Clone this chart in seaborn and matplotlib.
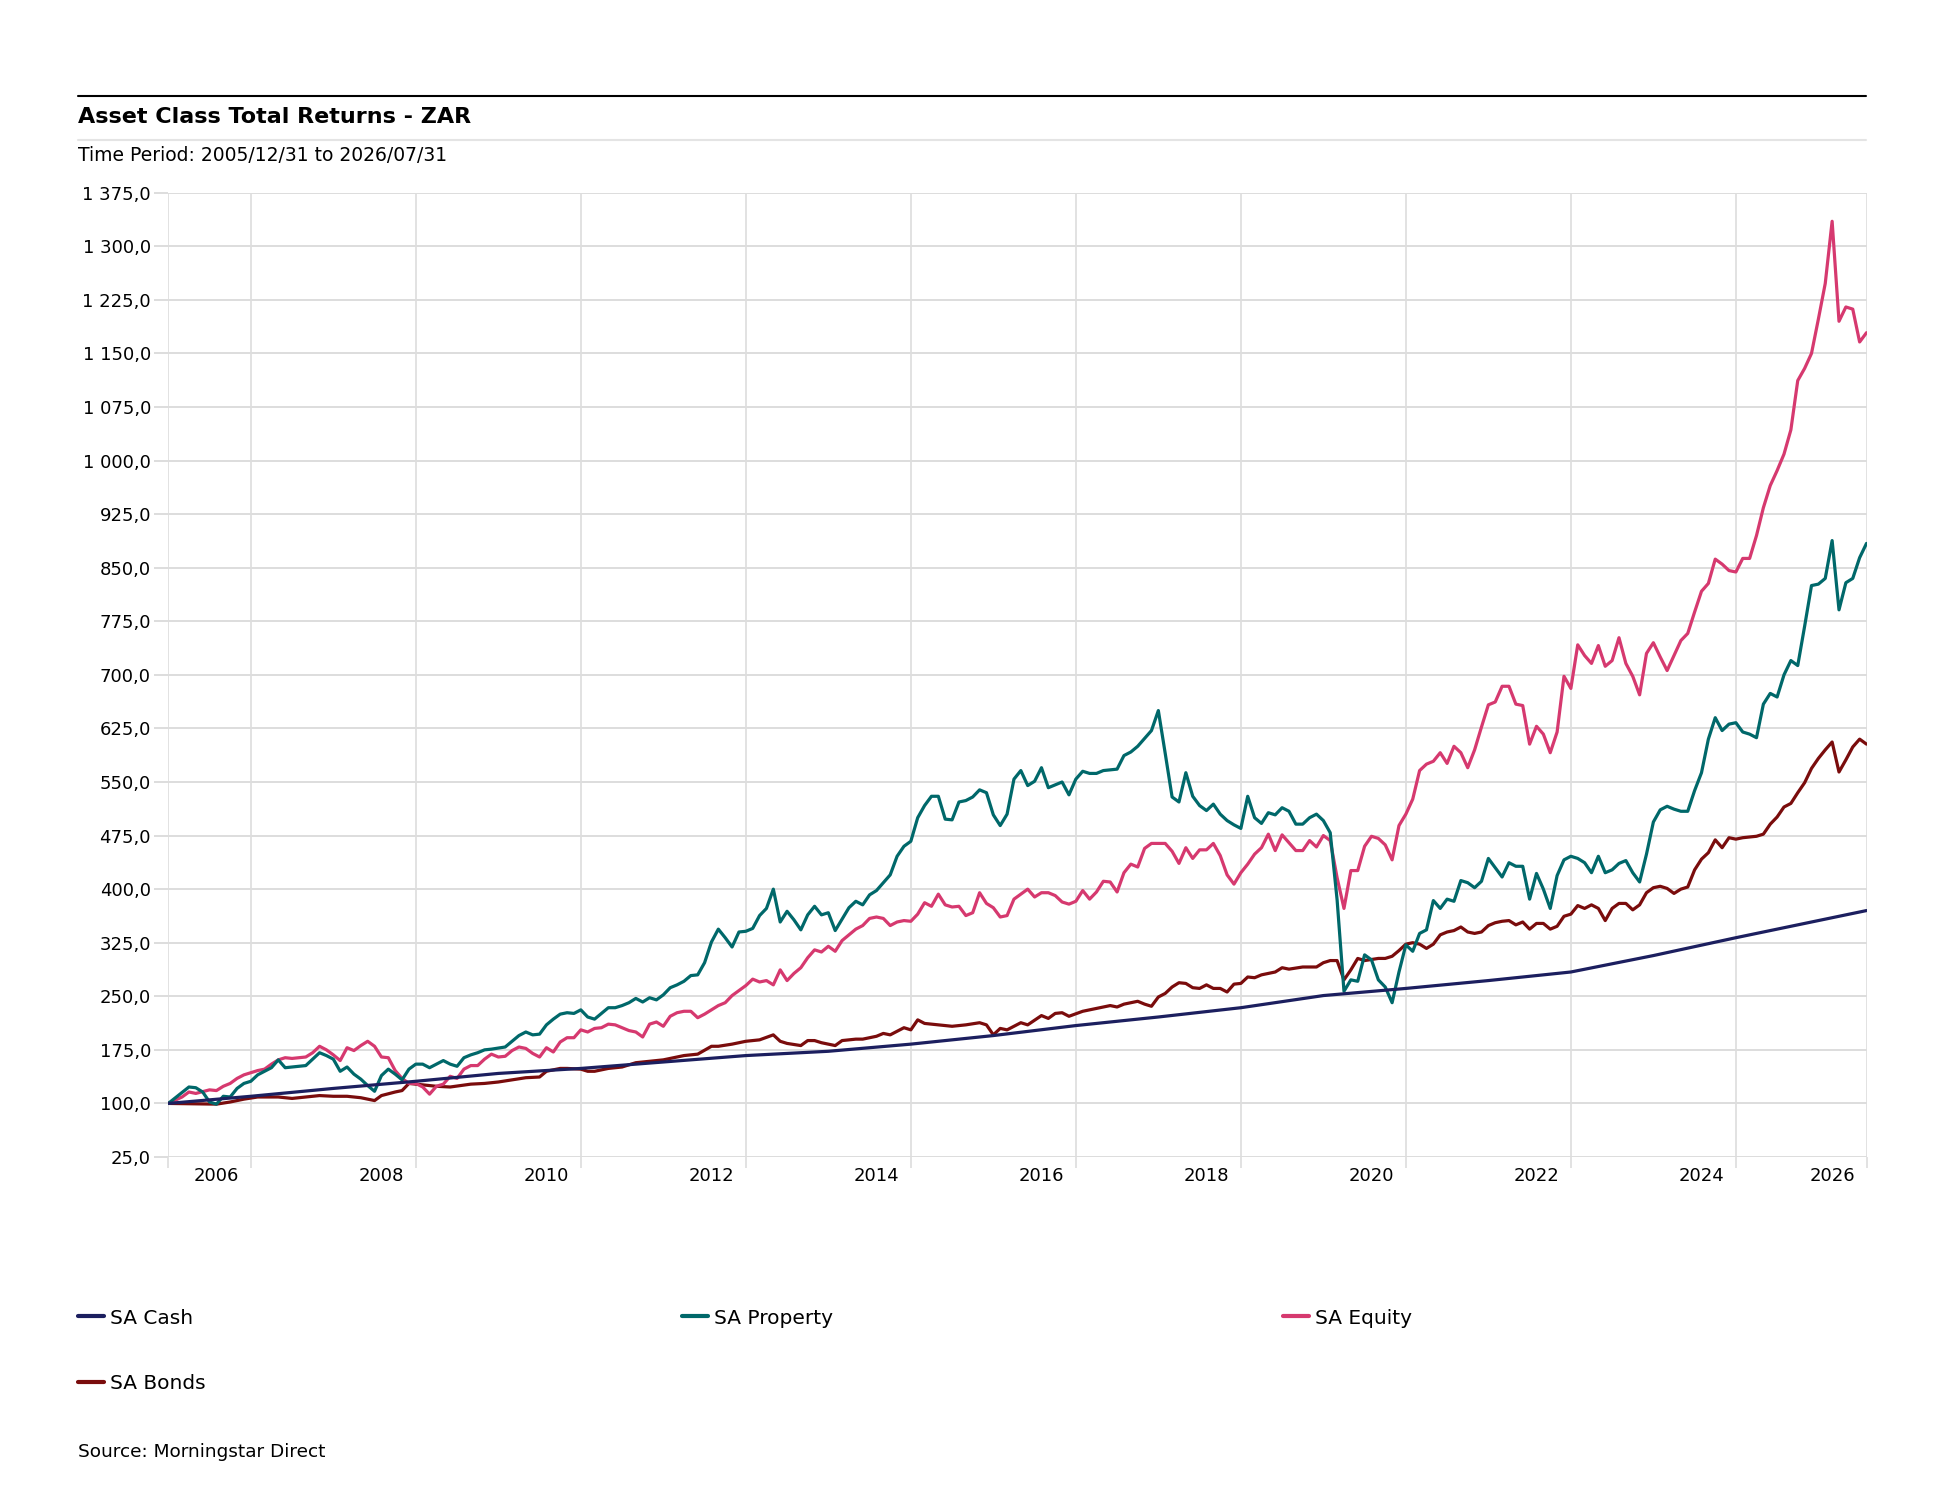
import numpy as np
import pandas as pd
import matplotlib
matplotlib.use("Agg")
import matplotlib.pyplot as plt
import seaborn as sns
from matplotlib.lines import Line2D
from matplotlib.ticker import FixedLocator, FuncFormatter, NullFormatter

# ---------------- data (month index: 0 = 2005/12/31 ... 247 = 2026/07/31) ----------------
cash_months = [0, 12, 24, 36, 48, 60, 72, 84, 96, 108, 120, 132, 144, 156, 168, 180, 192,
               204, 216, 228, 240, 247]
cash_values = [100, 110, 121, 131, 142, 149, 158, 167, 173, 183, 195, 209, 221, 234, 251, 261, 272,
               284, 307, 332, 356, 370]

property_months = [0, 3, 4, 5, 6, 7, 8, 9, 10, 11, 12, 13, 15, 16, 17, 19, 20, 22, 23, 24, 25, 26, 27, 28, 29, 30,
                   31, 32, 33, 34, 35, 36, 37, 38, 40, 41, 42, 43, 44, 45, 46, 47, 49, 50, 51, 52, 53, 54, 55, 56,
                   57, 58, 59, 60, 61, 62, 63, 64, 65, 66, 67, 68, 69, 70, 71, 72, 73, 74, 75, 76, 77, 78, 79, 80,
                   81, 82, 83, 84, 85, 86, 87, 88, 89, 90, 91, 92, 93, 94, 95, 96, 97, 98, 99, 100, 101, 102, 103,
                   104, 105, 106, 107, 108, 109, 110, 111, 112, 113, 114, 115, 116, 117, 118, 119, 120, 121, 122,
                   123, 124, 125, 126, 127, 128, 129, 130, 131, 132, 133, 134, 135, 136, 137, 138, 139, 140, 141,
                   142, 143, 144, 145, 146, 147, 148, 149, 150, 151, 152, 153, 154, 155, 156, 157, 158, 159, 160,
                   161, 162, 163, 164, 165, 166, 167, 168, 169, 170, 171, 172, 173, 174, 175, 176, 177, 178, 179,
                   180, 181, 182, 183, 184, 185, 186, 187, 188, 189, 190, 191, 192, 193, 194, 195, 196, 197, 198,
                   199, 200, 201, 202, 203, 204, 205, 206, 207, 208, 209, 210, 211, 212, 213, 214, 215, 216, 217,
                   218, 219, 220, 221, 222, 223, 224, 225, 226, 227, 228, 229, 230, 231, 232, 233, 234, 235, 236,
                   237, 238, 239, 240, 241, 242, 243, 244, 245, 246, 247]
property_values = [100, 123, 122, 116, 102, 99, 110, 109, 121, 128, 131, 140, 150, 161, 150, 152, 153, 171, 167, 162,
                   145, 151, 141, 134, 125, 117, 139, 148, 141, 133, 148, 155, 155, 150, 160, 155, 152, 164, 168,
                   171, 175, 176, 179, 187, 195, 200, 196, 197, 210, 218, 225, 227, 226, 231, 221, 218, 226, 234,
                   234, 237, 241, 247, 242, 248, 245, 252, 262, 266, 271, 279, 280, 297, 326, 344, 332, 319, 340,
                   341, 345, 363, 373, 400, 354, 369, 357, 343, 364, 376, 364, 367, 342, 358, 374, 383, 378, 392,
                   398, 409, 420, 446, 460, 467, 500, 517, 530, 530, 498, 497, 522, 524, 529, 539, 535, 504, 489,
                   505, 554, 566, 545, 551, 570, 542, 546, 550, 532, 554, 565, 562, 562, 566, 567, 568, 587, 592,
                   600, 611, 622, 650, 590, 529, 522, 563, 530, 517, 510, 519, 505, 496, 490, 485, 530, 500, 492,
                   507, 504, 514, 509, 491, 491, 500, 505, 496, 479, 385, 257, 273, 271, 308, 301, 273, 263, 241,
                   284, 322, 313, 338, 343, 384, 373, 386, 383, 412, 409, 402, 411, 443, 430, 417, 437, 432, 432,
                   386, 422, 400, 373, 419, 441, 446, 443, 437, 423, 446, 423, 427, 436, 440, 423, 410, 449, 494,
                   511, 516, 512, 509, 509, 538, 563, 610, 640, 622, 631, 633, 620, 617, 612, 659, 674, 669, 700,
                   720, 713, 768, 825, 827, 835, 888, 791, 829, 835, 864, 884]

equity_months = [0, 2, 3, 4, 6, 7, 8, 9, 10, 11, 13, 14, 15, 16, 17, 18, 20, 21, 22, 23, 24, 25, 26, 27, 28, 29, 30,
                 31, 32, 33, 34, 35, 36, 37, 38, 39, 40, 41, 42, 43, 44, 45, 46, 47, 48, 49, 50, 51, 52, 53, 54, 55,
                 56, 57, 58, 59, 60, 61, 62, 63, 64, 65, 66, 67, 68, 69, 70, 71, 72, 73, 74, 75, 76, 77, 78, 79, 80,
                 81, 82, 83, 84, 85, 86, 87, 88, 89, 90, 91, 92, 93, 94, 95, 96, 97, 98, 99, 100, 101, 102, 103,
                 104, 105, 106, 107, 108, 109, 110, 111, 112, 113, 114, 115, 116, 117, 118, 119, 120, 121, 122,
                 123, 124, 125, 126, 127, 128, 129, 130, 131, 132, 133, 134, 135, 136, 137, 138, 139, 140, 141,
                 142, 143, 144, 145, 146, 147, 148, 149, 150, 151, 152, 153, 154, 155, 156, 157, 158, 159, 160,
                 161, 162, 163, 164, 165, 166, 167, 168, 169, 170, 171, 172, 173, 174, 175, 176, 177, 178, 179,
                 180, 181, 182, 183, 184, 185, 186, 187, 188, 189, 190, 191, 192, 193, 194, 195, 196, 197, 198,
                 199, 200, 201, 202, 203, 204, 205, 206, 207, 208, 209, 210, 211, 212, 213, 214, 215, 216, 217,
                 218, 219, 220, 221, 222, 223, 224, 225, 226, 227, 228, 229, 230, 231, 232, 233, 234, 235, 236,
                 237, 238, 239, 240, 241, 242, 243, 244, 245, 246, 247]
equity_values = [100, 109, 116, 114, 119, 118, 124, 128, 135, 140, 146, 148, 155, 161, 164, 163, 165, 171, 180, 175,
                 168, 160, 178, 174, 181, 187, 180, 165, 164, 146, 135, 128, 128, 123, 113, 124, 127, 138, 135,
                 148, 153, 153, 162, 169, 165, 166, 174, 179, 177, 170, 165, 178, 172, 186, 192, 192, 203, 200,
                 205, 206, 211, 210, 206, 202, 200, 193, 211, 214, 208, 222, 227, 229, 229, 220, 225, 231, 237,
                 241, 251, 258, 265, 274, 270, 272, 266, 287, 272, 282, 290, 304, 315, 312, 320, 313, 328, 336,
                 344, 349, 359, 361, 359, 349, 354, 356, 355, 365, 381, 376, 393, 378, 375, 376, 363, 367, 395,
                 380, 374, 361, 363, 386, 393, 400, 389, 395, 395, 391, 382, 379, 383, 398, 386, 396, 411, 410,
                 396, 423, 435, 431, 457, 464, 464, 464, 453, 436, 458, 443, 455, 455, 464, 447, 420, 407, 423,
                 435, 449, 458, 477, 454, 476, 465, 454, 454, 468, 459, 475, 468, 416, 373, 426, 426, 460, 474,
                 471, 462, 441, 489, 505, 526, 566, 575, 579, 591, 576, 600, 591, 570, 595, 627, 658, 662, 684,
                 684, 659, 657, 603, 628, 617, 591, 620, 698, 681, 742, 727, 716, 741, 712, 720, 752, 716, 698,
                 672, 730, 745, 725, 706, 727, 748, 758, 788, 817, 828, 862, 855, 846, 844, 863, 863, 895, 934,
                 965, 986, 1009, 1043, 1112, 1129, 1150, 1198, 1248, 1335, 1195, 1215, 1212, 1166, 1179]

bonds_months = [0, 7, 9, 11, 13, 16, 18, 20, 22, 24, 26, 28, 30, 31, 33, 34, 35, 37, 39, 41, 44, 46, 48, 50, 52, 54,
                55, 57, 58, 60, 61, 62, 64, 66, 68, 70, 72, 73, 75, 77, 79, 80, 82, 84, 86, 88, 89, 90, 92, 93,
                94, 95, 97, 98, 100, 101, 103, 104, 105, 107, 108, 109, 110, 112, 114, 116, 118, 119, 120, 121,
                122, 124, 125, 127, 128, 129, 130, 131, 133, 135, 137, 138, 139, 141, 142, 143, 144, 145, 146,
                147, 148, 149, 150, 151, 152, 153, 154, 155, 156, 157, 158, 159, 161, 162, 163, 165, 167, 168,
                169, 170, 171, 172, 173, 174, 176, 177, 178, 179, 180, 181, 182, 183, 184, 185, 186, 187, 188,
                189, 190, 191, 192, 193, 194, 195, 196, 197, 198, 199, 200, 201, 202, 203, 204, 205, 206, 207,
                208, 209, 210, 211, 212, 213, 214, 215, 216, 217, 218, 219, 220, 221, 222, 223, 224, 225, 226,
                227, 228, 229, 230, 231, 232, 233, 234, 235, 236, 237, 238, 239, 240, 241, 242, 243, 244, 245,
                246, 247]
bonds_values = [100, 99, 102, 106, 109, 109, 107, 109, 111, 110, 110, 108, 104, 111, 116, 118, 128, 126, 124, 123,
                127, 128, 130, 133, 136, 137, 145, 149, 149, 148, 145, 145, 149, 151, 157, 159, 161, 163, 167,
                169, 180, 180, 183, 187, 189, 196, 187, 184, 181, 188, 188, 185, 181, 188, 190, 190, 194, 198,
                196, 206, 203, 217, 212, 210, 208, 210, 213, 210, 196, 205, 203, 213, 210, 223, 219, 226, 227,
                222, 229, 233, 237, 235, 239, 243, 239, 236, 249, 254, 263, 269, 268, 262, 261, 266, 261, 261,
                256, 267, 268, 277, 276, 280, 284, 290, 288, 291, 291, 297, 300, 300, 273, 287, 303, 300, 303,
                303, 306, 314, 323, 325, 323, 317, 323, 336, 340, 342, 347, 340, 338, 340, 349, 353, 355, 356,
                350, 354, 344, 352, 352, 344, 348, 362, 365, 377, 373, 378, 373, 356, 373, 380, 380, 371, 378,
                395, 402, 404, 401, 394, 400, 403, 427, 442, 451, 469, 458, 472, 470, 472, 473, 474, 477, 491,
                501, 515, 520, 535, 549, 569, 583, 595, 606, 564, 581, 599, 610, 603]

series_names = ["SA Cash", "SA Property", "SA Equity", "SA Bonds"]
series_colors = ["#1c1f5f", "#00686a", "#d6396f", "#7a0c0c"]

y_ticks = [25, 100, 175, 250, 325, 400, 475, 550, 625, 700, 775, 850, 925, 1000, 1075, 1150, 1225, 1300, 1375]
grid_months = [0, 12, 36, 60, 84, 108, 132, 156, 180, 204, 228, 247]
label_months = [7, 31, 55, 79, 103, 127, 151, 175, 199, 223, 242]
year_labels = ["2006", "2008", "2010", "2012", "2014", "2016", "2018", "2020", "2022", "2024", "2026"]

title_text = "Asset Class Total Returns - ZAR"
subtitle_text = "Time Period: 2005/12/31 to 2026/07/31"
source_text = "Source: Morningstar Direct"

# ---------------- figure ----------------
sns.set_theme(style="white")
plt.rcParams['font.family'] = ['DejaVu Sans']
plt.rcParams['text.color'] = '#000000'
plt.rcParams['legend.labelcolor'] = '#000000'

W, H = 1942, 1500
fig = plt.figure(figsize=(W / 100, H / 100), dpi=100)
fig.patch.set_facecolor("white")

ax_left, ax_right, ax_top, ax_bottom = 168.3, 1866.5, 192.7, 1157.0
ax = fig.add_axes([ax_left / W, 1 - ax_bottom / H, (ax_right - ax_left) / W, (ax_bottom - ax_top) / H])

frames = {
    "SA Cash": pd.DataFrame({"month": cash_months, "value": cash_values}),
    "SA Property": pd.DataFrame({"month": property_months, "value": property_values}),
    "SA Equity": pd.DataFrame({"month": equity_months, "value": equity_values}),
    "SA Bonds": pd.DataFrame({"month": bonds_months, "value": bonds_values}),
}
zorders = {"SA Bonds": 3, "SA Equity": 4, "SA Property": 5, "SA Cash": 6}
color_map = dict(zip(series_names, series_colors))
for name in ["SA Bonds", "SA Equity", "SA Property", "SA Cash"]:
    sns.lineplot(data=frames[name], x="month", y="value", ax=ax, color=color_map[name],
                 linewidth=2.3, legend=False, zorder=zorders[name], estimator=None)

ax.set_xlim(0, 247)
ax.set_ylim(25, 1375)
ax.set_xlabel("")
ax.set_ylabel("")
for s in ax.spines.values():
    s.set_visible(False)

grid_color = "#dddddd"
ax.xaxis.set_major_locator(FixedLocator(grid_months))
ax.xaxis.set_major_formatter(NullFormatter())
ax.xaxis.set_minor_locator(FixedLocator(label_months))
ax.set_xticklabels(year_labels, minor=True)
ax.tick_params(axis="x", which="major", length=8, width=1.4, color="#e2e2e2", direction="out", bottom=True)
ax.tick_params(axis="x", which="minor", length=0, pad=7.5, labelsize=13, labelcolor="#000000", bottom=True)

ax.yaxis.set_major_locator(FixedLocator(y_ticks))
ax.yaxis.set_major_formatter(FuncFormatter(lambda v, p: f"{v:,.1f}".replace(",", " ").replace(".", ",")))
ax.tick_params(axis="y", which="major", length=10, width=1.4, color=grid_color, direction="out", left=True,
               pad=2.5, labelsize=13, labelcolor="#000000")

ax.grid(True, axis="y", which="major", color=grid_color, linewidth=1.4)
ax.grid(True, axis="x", which="major", color="#e2e2e2", linewidth=1.4)
ax.set_axisbelow(True)

# ---------------- header / footer ----------------
def fy(y):
    return 1 - y / H

fig.add_artist(Line2D([78 / W, 1866 / W], [fy(95.7), fy(95.7)], color="#000000", linewidth=1.5))
fig.add_artist(Line2D([78 / W, 1866 / W], [fy(140), fy(140)], color="#e4e4e4", linewidth=1.5))
fig.text(78 / W, fy(122.7), title_text, fontsize=16, fontweight="bold", ha="left", va="baseline",
         color="#000000")
fig.text(78 / W, fy(160.7), subtitle_text, fontsize=13.5, ha="left", va="baseline", color="#000000")
fig.text(78 / W, fy(1456.7), source_text, fontsize=13.3, ha="left", va="baseline", color="#000000")

# ---------------- legend (three columns) ----------------
handles = {n: Line2D([], [], color=color_map[n], linewidth=3.0) for n in series_names}
leg_kw = dict(loc="upper left", frameon=False, fontsize=14.5, handlelength=1.3, handletextpad=0.27,
              labelspacing=2.33, borderpad=0, borderaxespad=0, bbox_transform=fig.transFigure,
              labelcolor="#000000")
columns = [(78, ["SA Cash", "SA Bonds"]), (682, ["SA Property"]), (1283, ["SA Equity"])]
for x0, names in columns:
    lg = fig.legend(handles=[handles[n] for n in names], labels=names,
                    bbox_to_anchor=(x0 / W, fy(1308.5)), **leg_kw)

fig.savefig("out.png", dpi=100, facecolor="white")
